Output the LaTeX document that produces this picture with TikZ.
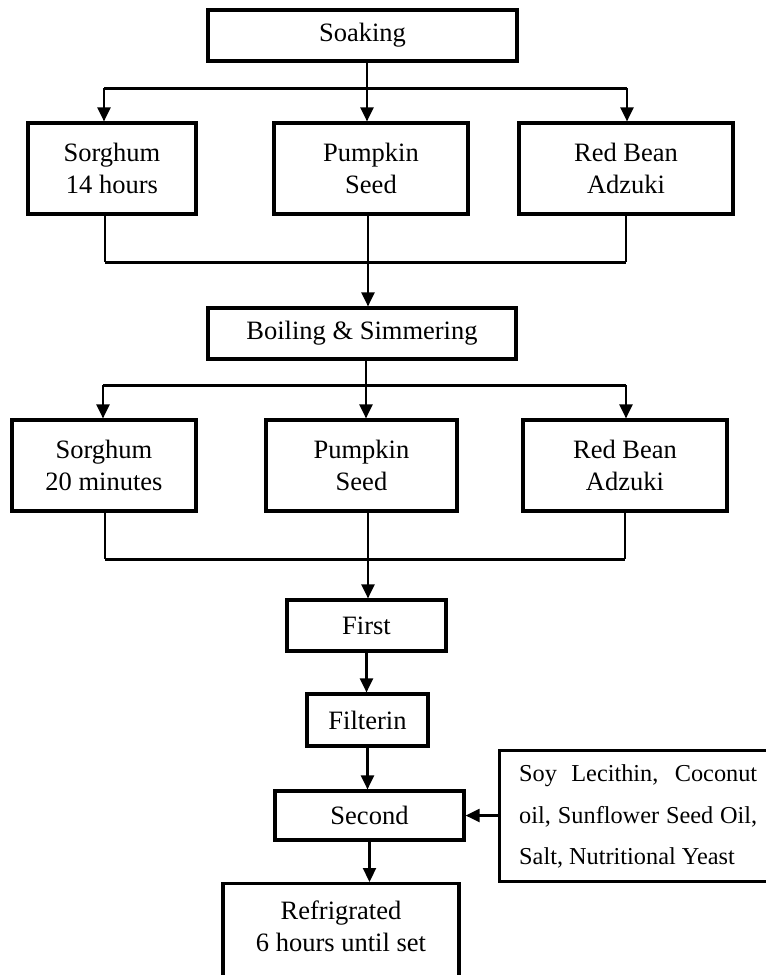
\documentclass[tikz,border=0pt]{standalone}
\usepackage{fontspec}
\setmainfont{Liberation Serif}
\usetikzlibrary{arrows.meta}
\begin{document}
\begin{tikzpicture}[x=1pt,y=-1pt,
  box/.style={draw, line width=3.2pt, inner sep=0pt, align=center,
    font=\fontsize{26.5}{32}\selectfont},
  hline/.style={line width=3pt},
  thinline/.style={line width=1.8pt},
  arr/.style={line width=2.2pt, -{Triangle[length=14pt,width=13pt]}},
  txt/.style={inner sep=0pt}]
\useasboundingbox (0,0) rectangle (766,975);
\fill[white] (0,0) rectangle (766,975);

% Soaking
\node[box, minimum width=309, minimum height=51] (soak) at (362.5,35.5) {Soaking};
\coordinate (t1l) at (104,88);
\coordinate (t1m) at (367,88);
\coordinate (t1r) at (627,88);
\draw[hline] (t1l) -- (t1r);
\draw[thinline] (soak.south -| t1m) -- (t1m);

% row 1
\node[box, minimum width=168, minimum height=91] (s1) at (112,168.5) {Sorghum\\14 hours};
\node[box, minimum width=194, minimum height=91] (p1) at (371,168.5) {Pumpkin\\Seed};
\node[box, minimum width=214, minimum height=91] (r1) at (626,168.5) {Red Bean\\Adzuki};
\draw[arr] (t1l) -- (t1l |- s1.north);
\draw[arr] (t1m) -- (t1m |- p1.north);
\draw[arr] (t1r) -- (t1r |- r1.north);

\coordinate (b1l) at (105,262);
\coordinate (b1m) at (368,262);
\coordinate (b1r) at (626,262);
\draw[thinline] (b1l |- s1.south) -- (b1l);
\draw[thinline] (b1r |- r1.south) -- (b1r);
\draw[hline] (b1l) -- (b1r);

% Boiling
\node[box, minimum width=308, minimum height=51] (boil) at (362,333.5) {Boiling \& Simmering};
\draw[arr] (b1m |- p1.south) -- (b1m |- boil.north);

\coordinate (t2l) at (103,385);
\coordinate (t2m) at (366,385);
\coordinate (t2r) at (626,385);
\draw[hline] (t2l) -- (t2r);
\draw[thinline] (boil.south -| t2m) -- (t2m);

% row 2
\node[box, minimum width=184, minimum height=91] (s2) at (104,465.5) {Sorghum\\20 minutes};
\node[box, minimum width=191, minimum height=91] (p2) at (361.5,465.5) {Pumpkin\\Seed};
\node[box, minimum width=204, minimum height=91] (r2) at (625,465.5) {Red Bean\\Adzuki};
\draw[arr] (t2l) -- (t2l |- s2.north);
\draw[arr] (t2m) -- (t2m |- p2.north);
\draw[arr] (t2r) -- (t2r |- r2.north);

\coordinate (b2l) at (105,559);
\coordinate (b2m) at (368,559);
\coordinate (b2r) at (625,559);
\draw[thinline] (b2l |- s2.south) -- (b2l);
\draw[thinline] (b2r |- r2.south) -- (b2r);
\draw[hline] (b2l) -- (b2r);

% chain
\node[box, minimum width=159, minimum height=51] (first) at (366.5,625.5) {First};
\node[box, minimum width=121, minimum height=52] (filt) at (367.5,720) {Filterin};
\node[box, minimum width=189, minimum height=49] (second) at (369.5,815.5) {Second};
\node[box, anchor=north, minimum width=236, minimum height=140] (refrig) at (341,882) {};
\node[txt, align=center, font=\fontsize{26.5}{32}\selectfont] (refrigtext) at (341,926) {Refrigrated\\6 hours until set};

\draw[arr] (b2m |- p2.south) -- (b2m |- first.north);
\draw[arr] (first.south) -- (first.south |- filt.north);
\draw[arr] (filt.south) -- (filt.south |- second.north);
\draw[arr] (second.south) -- (second.south |- refrig.north);

% ingredients
\node[box, anchor=north west, minimum width=300, minimum height=131] (ing) at (498,749) {};
\node[txt, anchor=west, align=left, font=\fontsize{24.3}{41.5}\selectfont] (ingtext) at (519,816.5)
  {\makebox[238pt][s]{Soy Lecithin, Coconut}\\\makebox[238pt][s]{oil, Sunflower Seed Oil,}\\Salt, Nutritional Yeast};
\draw[arr] (ing.west |- second.east) -- (second.east);
\end{tikzpicture}
\end{document}
